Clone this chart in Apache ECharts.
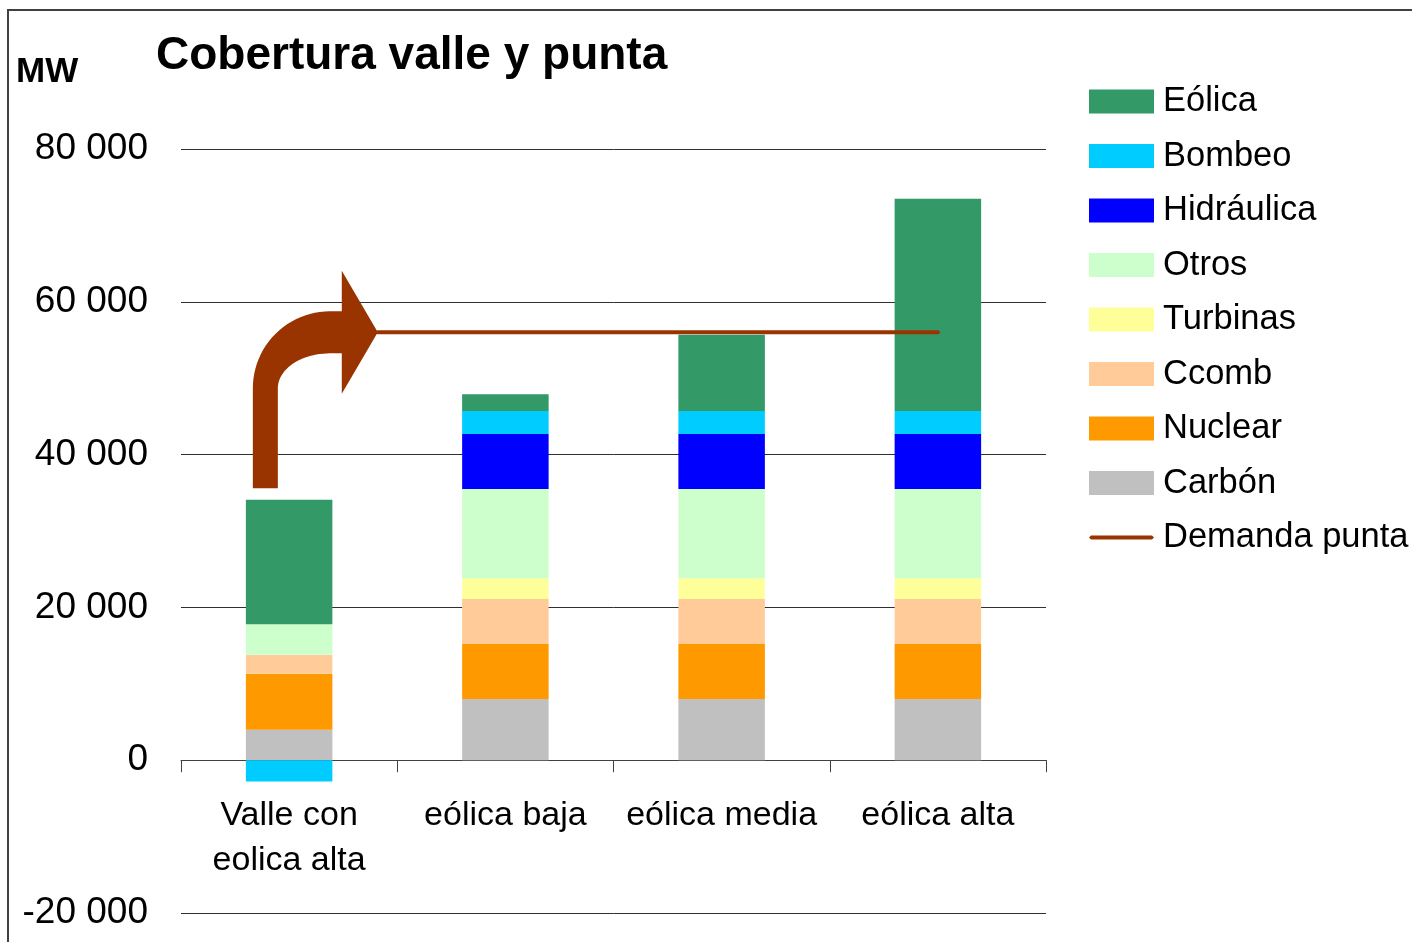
<!DOCTYPE html>
<html>
<head>
<meta charset="utf-8">
<title>Cobertura valle y punta</title>
<script src="https://cdn.jsdelivr.net/npm/echarts@6/dist/echarts.min.js"></script>
<style>
  html, body { margin: 0; padding: 0; background: #ffffff; }
  #chart { width: 1412px; height: 942px; }
</style>
</head>
<body>
<div id="chart"></div>
<script>
// Escenarios de cobertura (MW)
const categories = ['Valle con\neolica alta', 'eólica baja', 'eólica media', 'eólica alta'];

// Tecnologías apiladas de abajo arriba
const carbon     = [4000, 8000, 8000, 8000];
const nuclear    = [7300, 7200, 7200, 7200];
const ccomb      = [2500, 5900, 5900, 5900];
const turbinas   = [0, 2700, 2700, 2700];
const otros      = [4000, 11700, 11700, 11700];
const hidraulica = [0, 7200, 7200, 7200];
const bombeo     = [-2800, 3000, 3000, 3000];
const eolica     = [16300, 2200, 10000, 27800];

// Demanda punta: posición sobre el eje auxiliar (0..4 = ancho de las cuatro categorías)
const demandaX = [0.91, 3.5];
const demandaPunta = [56000, 56000];

// Flecha de valle a punta: arranque sobre la primera barra
const flechaBase = [0.39, 35600];

const yTicks = { min: -20000, max: 80000, interval: 20000 };

const FONT = '"Liberation Sans", Arial, sans-serif';
const COLORS = {
  'Eólica': '#339966',
  'Bombeo': '#00CCFF',
  'Hidráulica': '#0000FF',
  'Otros': '#CCFFCC',
  'Turbinas': '#FFFF99',
  'Ccomb': '#FFCC99',
  'Nuclear': '#FF9900',
  'Carbón': '#C0C0C0',
  'Demanda punta': '#993300'
};

const stacked = [
  ['Carbón', carbon],
  ['Nuclear', nuclear],
  ['Ccomb', ccomb],
  ['Turbinas', turbinas],
  ['Otros', otros],
  ['Hidráulica', hidraulica],
  ['Bombeo', bombeo],
  ['Eólica', eolica]
];

const fmt = v => String(v).replace(/\B(?=(\d{3})+(?!\d))/g, ' ');

const chart = echarts.init(document.getElementById('chart'), null, { renderer: 'canvas' });

const series = stacked.map(([name, data]) => ({
  name: name,
  type: 'bar',
  stack: 'total',
  barWidth: '40%',
  xAxisIndex: 0,
  yAxisIndex: 0,
  itemStyle: { color: COLORS[name] },
  emphasis: { disabled: true },
  data: data
}));

series.push({
  name: 'Demanda punta',
  type: 'line',
  xAxisIndex: 1,
  yAxisIndex: 0,
  symbol: 'none',
  lineStyle: { color: COLORS['Demanda punta'], width: 4, cap: 'round' },
  itemStyle: { color: COLORS['Demanda punta'] },
  emphasis: { disabled: true },
  z: 5,
  data: demandaX.map((x, i) => [x, demandaPunta[i]])
});

const legendNames = ['Eólica', 'Bombeo', 'Hidráulica', 'Otros', 'Turbinas', 'Ccomb', 'Nuclear', 'Carbón'];

const option = {
  animation: false,
  backgroundColor: '#ffffff',
  textStyle: { fontFamily: FONT, color: '#000' },
  grid: { left: 181, right: 366, top: 149, bottom: 29, containLabel: false, outerBoundsMode: 'none' },
  legend: {
    orient: 'vertical',
    left: 1089,
    top: 84,
    padding: 0,
    itemWidth: 65,
    itemHeight: 24,
    itemGap: 19.5,
    symbolKeepAspect: true,
    selectedMode: false,
    textStyle: { fontFamily: FONT, fontSize: 34.5, color: '#000', padding: [0, 0, 0, 4] },
    data: legendNames.map(n => ({ name: n, icon: 'rect' })).concat([
      { name: 'Demanda punta', icon: 'path://M2,0 L63,0 L65,2 L63,4 L2,4 L0,2 Z' }
    ])
  },
  xAxis: [
    {
      type: 'category',
      position: 'bottom',
      offset: 0,
      data: categories,
      axisLine: { onZero: false, lineStyle: { color: '#404040', width: 1 } },
      axisTick: { show: true, length: 12, lineStyle: { color: '#404040' } },
      axisLabel: { fontFamily: FONT, fontSize: 34, color: '#000', margin: 33, lineHeight: 45, interval: 0 },
      splitLine: { show: false }
    },
    {
      type: 'value',
      min: 0,
      max: 4,
      show: false
    }
  ],
  yAxis: {
    type: 'value',
    min: yTicks.min,
    max: yTicks.max,
    interval: yTicks.interval,
    axisLine: { show: false },
    axisTick: { show: false },
    axisLabel: { fontFamily: FONT, fontSize: 37, color: '#000', margin: 33, formatter: fmt },
    splitLine: { show: true, lineStyle: { color: '#303030', width: 1 } }
  },
  graphic: [
    {
      type: 'rect',
      id: 'marco',
      shape: { x: 8, y: 10, width: 1420, height: 960 },
      style: { fill: null, stroke: '#404040', lineWidth: 2 },
      silent: true,
      z: 0
    },
    {
      type: 'text',
      id: 'titulo',
      left: 156,
      top: 33,
      style: { text: 'Cobertura valle y punta', font: 'bold 46px ' + FONT, fill: '#000' }
    },
    {
      type: 'text',
      id: 'unidad',
      left: 16,
      top: 55,
      style: { text: 'MW', font: 'bold 35px ' + FONT, fill: '#000' }
    }
  ],
  series: series
};

chart.setOption(option);

// El eje de categorías se dibuja sobre la línea de cero
const zeroY = chart.convertToPixel({ yAxisIndex: 0 }, 0);
const bottomY = chart.convertToPixel({ yAxisIndex: 0 }, yTicks.min);

// Flecha curva desde lo alto de la barra de valle hasta el inicio de la línea de demanda punta
const lineIdx = series.length - 1;
const base = chart.convertToPixel({ seriesIndex: lineIdx }, flechaBase);
const tip = chart.convertToPixel({ seriesIndex: lineIdx }, [demandaX[0], demandaPunta[0]]);

const shaftHalf = 12.5;
const bandHalf = 21;
const headLen = 36;
const headHalf = 61.5;
const rxIn = 52, ryIn = 35;

const sL = base[0] - shaftHalf;
const sR = base[0] + shaftHalf;
const bTop = tip[1] - bandHalf;
const bBot = tip[1] + bandHalf;
const ccx = sR + rxIn;
const ccy = bBot + ryIn;
const rxOut = ccx - sL;
const ryOut = ccy - bTop;
const hx = tip[0] - headLen;

const pts = [];
pts.push([sL, base[1]]);
const N = 24;
for (let i = 0; i <= N; i++) {
  const t = Math.PI + (Math.PI / 2) * (i / N);
  pts.push([ccx + rxOut * Math.cos(t), ccy + ryOut * Math.sin(t)]);
}
pts.push([hx, bTop]);
pts.push([hx, tip[1] - headHalf]);
pts.push([tip[0], tip[1]]);
pts.push([hx, tip[1] + headHalf]);
pts.push([hx, bBot]);
for (let i = 0; i <= N; i++) {
  const t = 1.5 * Math.PI - (Math.PI / 2) * (i / N);
  pts.push([ccx + rxIn * Math.cos(t), ccy + ryIn * Math.sin(t)]);
}
pts.push([sR, base[1]]);

chart.setOption({
  xAxis: [{ offset: zeroY - bottomY }, {}],
  graphic: [
    {
      type: 'polygon',
      id: 'flecha',
      shape: { points: pts },
      style: { fill: COLORS['Demanda punta'], stroke: null },
      silent: true,
      z: 10
    }
  ]
});
</script>
</body>
</html>
